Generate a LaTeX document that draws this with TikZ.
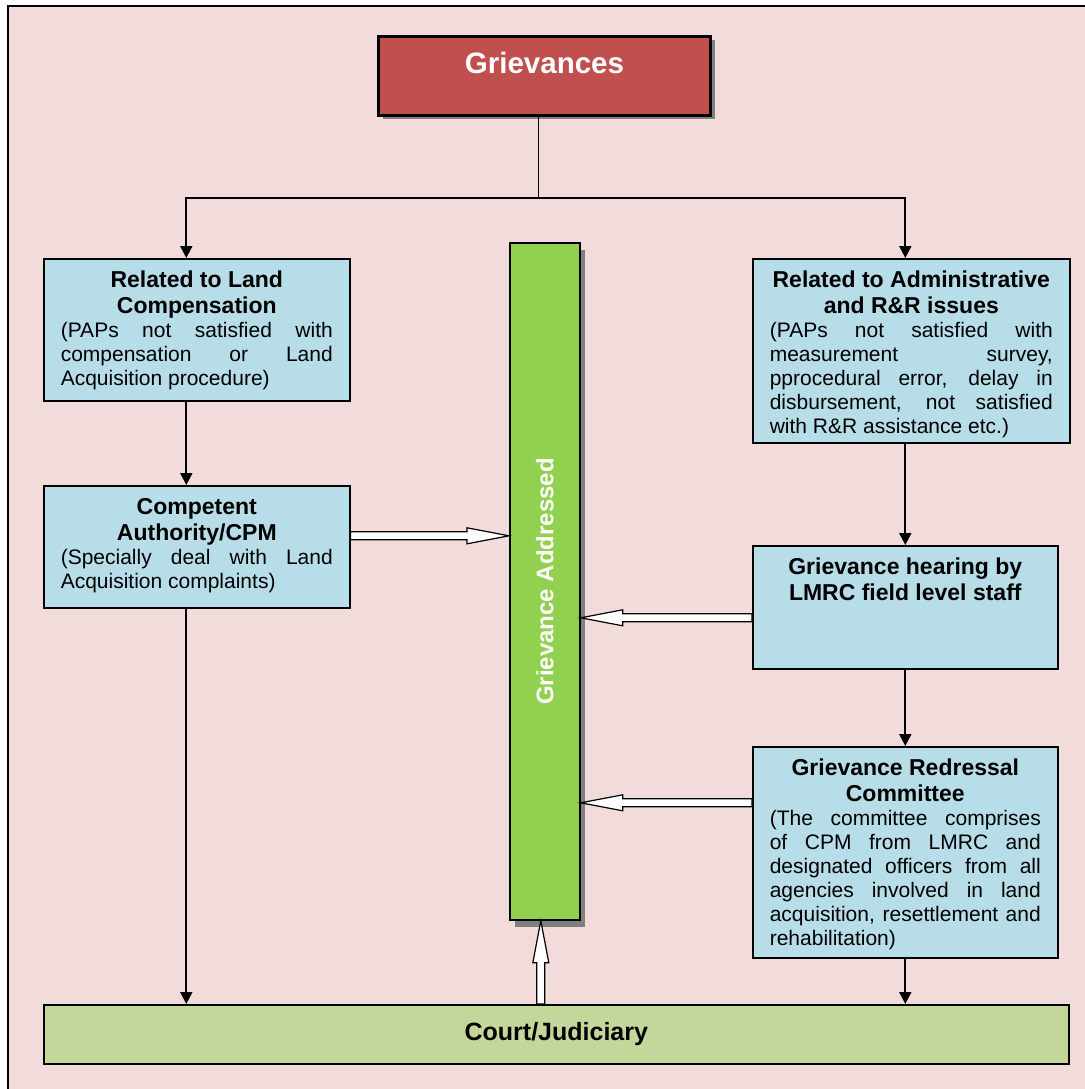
\documentclass[tikz,border=0pt]{standalone}
\usepackage{fontspec}
\setmainfont{Liberation Sans}
\usepackage{graphicx}
\usetikzlibrary{arrows.meta,calc,shadows}
\definecolor{bgpink}{HTML}{F2DCDB}
\definecolor{titlered}{HTML}{C0504D}
\definecolor{boxblue}{HTML}{B7DDE8}
\definecolor{bargreen}{HTML}{92D050}
\definecolor{courtgreen}{HTML}{C4D79B}
\definecolor{shadowgray}{HTML}{808080}
\hbadness=10000
\newcommand\boxtext[4]{%
  \parbox[c][#2][t]{#1}{%
    \fontsize{23}{26}\selectfont\bfseries\centering\rule{0pt}{29pt}#3\par
    \fontsize{21}{24}\selectfont\mdseries
    \leftskip=0pt \rightskip=0pt \parfillskip=0pt plus 1fil \parindent=0pt
    \tolerance=10000 #4\par}}
\newcommand\hollowarrow[2]{%
  \coordinate (hh) at ($(#2)!42pt!(#1)$);
  \draw[hollowsty] ($(#1)!4pt!90:(#2)$) -- ($(hh)!4pt!-90:(#1)$)
    -- ($(hh)!8pt!-90:(#1)$) -- (#2) -- ($(hh)!8pt!90:(#1)$)
    -- ($(hh)!4pt!90:(#1)$) -- ($(#1)!4pt!-90:(#2)$) -- cycle;}
\begin{document}
\begin{tikzpicture}[x=1pt,y=-1pt,
  infobox/.style={draw=black, fill=boxblue, line width=1.6pt, anchor=north west,
    inner xsep=17pt, inner ysep=0pt},
  arr/.style={draw=black, line width=2pt, -{Triangle[length=12pt,width=12pt]}},
  hollowsty/.style={draw=black, fill=white, line width=1.2pt, line join=miter},
  titlebox/.style={draw=black, fill=titlered, line width=3pt, anchor=north west,
    minimum width=332pt, minimum height=79pt, inner sep=0pt,
    drop shadow={shadow xshift=4pt, shadow yshift=-4pt, fill=shadowgray, opacity=1},
    text=white, font=\fontsize{29.5}{33}\selectfont\bfseries},
  barbox/.style={draw=black, fill=bargreen, line width=1.8pt, anchor=north west,
    minimum width=70pt, minimum height=677pt, inner sep=0pt,
    drop shadow={shadow xshift=5pt, shadow yshift=-7pt, fill=shadowgray, opacity=1},
    text=white, font=\fontsize{24}{28}\selectfont\bfseries},
  courtbox/.style={draw=black, fill=courtgreen, line width=1.6pt, anchor=north west,
    minimum width=1025pt, minimum height=59pt, inner sep=0pt,
    font=\fontsize{25}{29}\selectfont\bfseries}
]
\useasboundingbox (0,0) rectangle (1084,1089);
% background frame (only left and top edges fall inside the picture)
\fill[bgpink] (8,6) rectangle (1120,1120);
\draw[line width=2pt] (8,1120) -- (8,6) -- (1120,6);

% nodes
\node[titlebox] (gr) at (377,35) {Grievances\rule[-26pt]{0pt}{0pt}};
\node[infobox] (lc) at (43,258) {\boxtext{272pt}{142pt}{Related to Land\\Compensation}{%
  (PAPs not satisfied with\linebreak compensation or Land\linebreak Acquisition procedure)}};
\node[infobox] (ca) at (43,485) {\boxtext{272pt}{122pt}{Competent\\Authority/CPM}{%
  (Specially deal with Land\linebreak Acquisition complaints)}};
\node[barbox] (ga) at (509,242) {\rotatebox{90}{Grievance Addressed}};
\node[infobox] (ra) at (752,258) {\boxtext{283pt}{184pt}{Related to Administrative\\and R\&R issues}{%
  (PAPs not satisfied with\linebreak measurement survey,\linebreak pprocedural error, delay in\linebreak
  disbursement, not satisfied\linebreak with R\&R assistance etc.)}};
\node[infobox] (hb) at (752,545) {\boxtext{271pt}{123pt}{Grievance hearing by\\LMRC field level staff}{}};
\node[infobox] (gc) at (752,746) {\boxtext{271pt}{211pt}{Grievance Redressal\\Committee}{%
  (The committee comprises\linebreak of CPM from LMRC and\linebreak designated officers from all\linebreak
  agencies involved in land\linebreak acquisition, resettlement and\linebreak rehabilitation)}};
\node[courtbox] (ct) at (43,1004) {Court/Judiciary\rule[-3pt]{0pt}{0pt}};

% connectors
\coordinate (stem) at ([xshift=-6pt]gr.south);
\coordinate (split) at ($(stem)+(0,81)$);
\draw[line width=1pt] (stem) -- (split);
\draw[arr] (split) -| ([xshift=-10.5pt]lc.north);
\draw[arr] (split) -| (ra.north -| hb.north);
\draw[arr] ([xshift=-10.5pt]lc.south) -- ([xshift=-10.5pt]ca.north);
\draw[arr] ([xshift=-10.5pt]ca.south) -- ([xshift=-10.5pt]ca.south |- ct.north);
\draw[arr] (ra.south -| hb.north) -- (hb.north);
\draw[arr] (hb.south) -- (gc.north);
\draw[arr] (gc.south) -- (gc.south |- ct.north);

% hollow arrows to "Grievance Addressed"
\coordinate (a1) at ([yshift=11pt]ca.east);
\coordinate (b1) at (ga.west |- a1);
\hollowarrow{a1}{b1}
\coordinate (a2) at ([yshift=-10.5pt]hb.west);
\coordinate (b2) at (ga.east |- a2);
\hollowarrow{a2}{b2}
\coordinate (a3) at ([yshift=49.5pt]gc.west);
\coordinate (b3) at (ga.east |- a3);
\hollowarrow{a3}{b3}
\coordinate (a4) at ([xshift=-15.5pt]ct.north);
\coordinate (b4) at (a4 |- ga.south);
\hollowarrow{a4}{b4}
\end{tikzpicture}
\end{document}
